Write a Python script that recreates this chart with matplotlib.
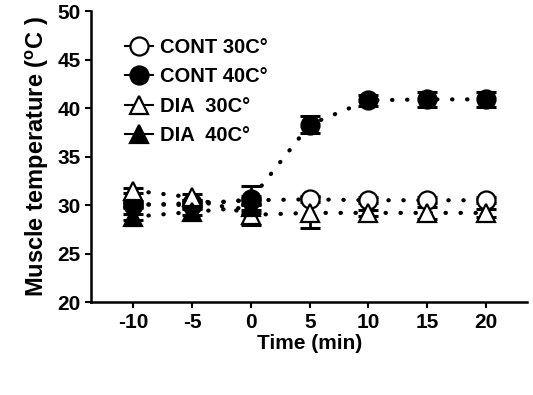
import matplotlib.pyplot as plt

plt.rcParams['font.family'] = ['Liberation Sans', 'DejaVu Sans']
plt.rcParams['font.weight'] = 'bold'
plt.rcParams['axes.unicode_minus'] = False

time = [-10, -5, 0, 5, 10, 15, 20]

cont30 = [30.0, 30.2, 30.5, 30.6, 30.5, 30.5, 30.5]
cont30_err = [0.3, 0.3, 0.4, 0.3, 0.3, 0.3, 0.3]
cont40 = [30.1, 30.0, 30.6, 38.3, 40.8, 40.9, 40.9]
cont40_err = [0.3, 0.3, 1.4, 0.9, 0.6, 0.8, 0.8]
dia30 = [31.5, 30.8, 29.0, 29.2, 29.2, 29.2, 29.2]
dia30_err = [0.3, 0.3, 1.0, 1.6, 0.3, 0.6, 0.4]
dia40 = [28.8, 29.3, 29.8]
dia40_err = [0.3, 0.3, 0.3]

series = [
    ('CONT 30C°', time, cont30, cont30_err, 'o', 'white'),
    ('CONT 40C°', time, cont40, cont40_err, 'o', 'black'),
    ('DIA  30C°', time, dia30, dia30_err, '^', 'white'),
    ('DIA  40C°', time[:3], dia40, dia40_err, '^', 'black'),
]

fig = plt.figure(figsize=(5.33, 3.95), dpi=100)
ax = fig.add_axes([0.171, 0.235, 0.818, 0.737])

for label, x, y, err, m, fc in series:
    ax.errorbar(x, y, yerr=err, fmt='none', ecolor='black', elinewidth=2,
                capsize=7, capthick=2.2, zorder=2)
    ax.plot(x, y, color='black', lw=3, linestyle=(0, (0.1, 3.5)),
            dash_capstyle='round', zorder=1)
    ax.plot(x, y, linestyle='none', marker=m, markersize=13,
            markerfacecolor=fc, markeredgecolor='black', markeredgewidth=1.6,
            zorder=3)

# legend handles: marker with a short line through it
handles = []
for label, x, y, err, m, fc in series:
    h, = ax.plot([], [], color='black', lw=1.5, marker=m, markersize=13,
                 markerfacecolor=fc, markeredgecolor='black', markeredgewidth=1.6)
    handles.append(h)
leg = ax.legend(handles, [s[0] for s in series], loc='upper left',
                bbox_to_anchor=(0.035, 0.97), frameon=False, handlelength=1.4,
                handletextpad=0.35, labelspacing=0.52, fontsize=14.5)

ax.set_xlim(-13.6, 23.5)
ax.set_ylim(20, 50)
ax.set_xticks(time)
ax.set_yticks([20, 25, 30, 35, 40, 45, 50])
ax.tick_params(labelsize=15, width=1.5, length=4, direction='out')
for lab in ax.get_xticklabels() + ax.get_yticklabels():
    lab.set_fontweight('bold')
ax.spines['top'].set_visible(False)
ax.spines['right'].set_visible(False)
ax.spines['left'].set_linewidth(1.8)
ax.spines['bottom'].set_linewidth(1.8)
ax.set_xlabel('Time (min)', fontsize=15, fontweight='bold', labelpad=2)
ax.set_ylabel('Muscle temperature ($^{\\mathregular{o}}$C )', fontsize=17,
              fontweight='bold', labelpad=5)

fig.savefig('out.png', dpi=100)
